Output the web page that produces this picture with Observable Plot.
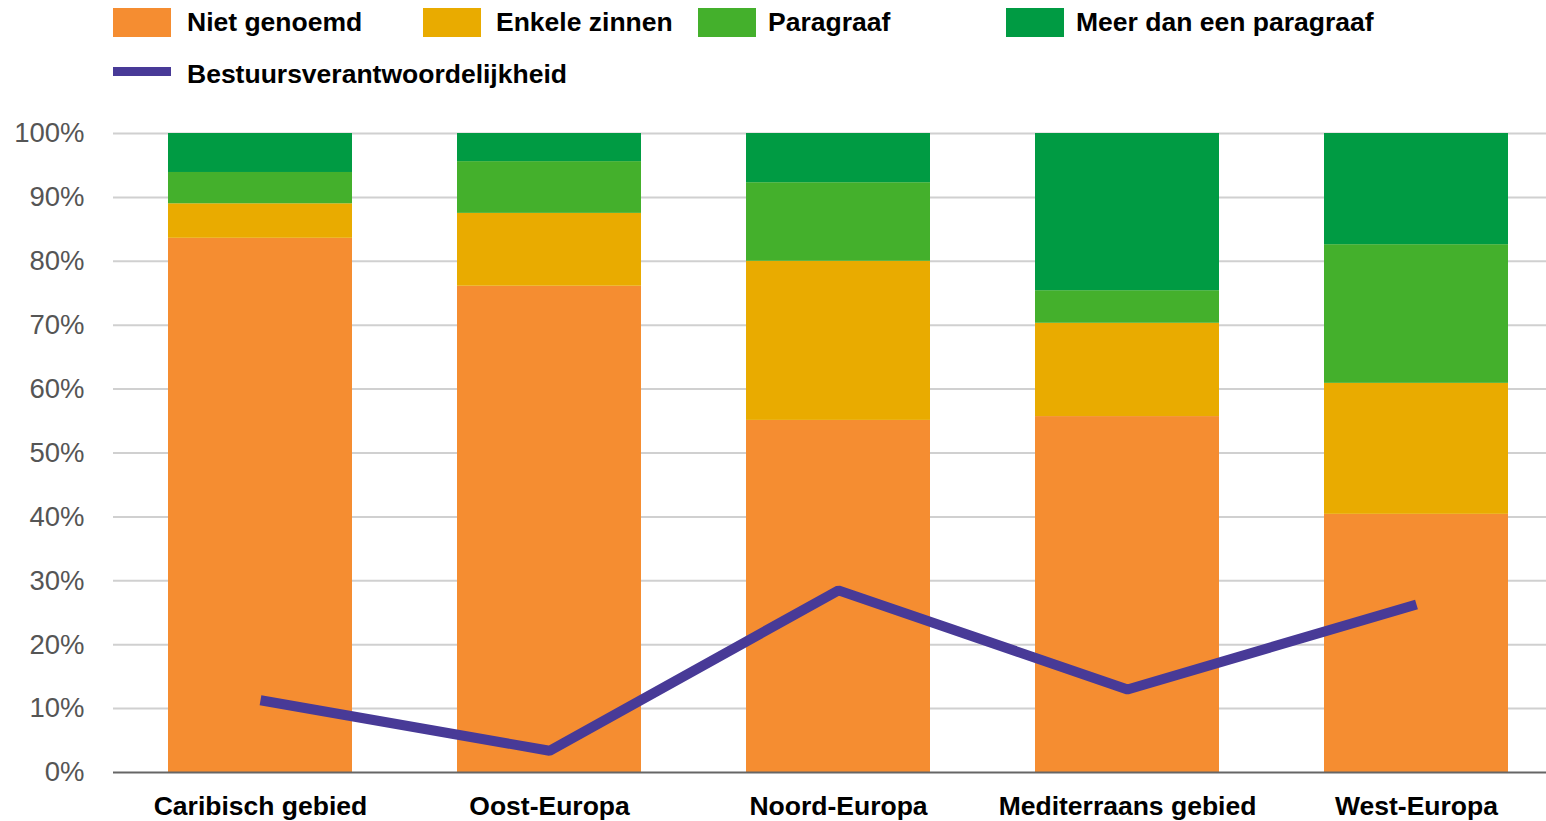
<!DOCTYPE html>
<html>
<head>
<meta charset="utf-8">
<script src="https://cdn.jsdelivr.net/npm/d3@7"></script>
<script src="https://cdn.jsdelivr.net/npm/@observablehq/plot@0.6"></script>
<style>
  body { margin: 0; background: #fff; font-family: "Liberation Sans", Arial, sans-serif; }
  #wrap { position: relative; width: 1546px; height: 821px; overflow: hidden; }
  #legend { position: relative; height: 100px; }
  .sw { position: absolute; width: 58px; height: 29px; }
  .ln { position: absolute; width: 58px; height: 9px; }
  .lt { position: absolute; font-weight: bold; font-size: 26.5px; line-height: 32px; height: 32px; color: #000; white-space: nowrap; }
</style>
</head>
<body>
<div id="wrap">
  <div id="legend"></div>
  <div id="chart"></div>
</div>
<script>
const regions = ["Caribisch gebied", "Oost-Europa", "Noord-Europa", "Mediterraans gebied", "West-Europa"];
const seriesNames = ["Niet genoemd", "Enkele zinnen", "Paragraaf", "Meer dan een paragraaf"];
const nietGenoemd = [83.6, 76.1, 55.1, 55.7, 40.4];
const enkeleZinnen = [5.4, 11.4, 24.9, 14.6, 20.5];
const paragraaf = [4.9, 8.1, 12.3, 5.1, 21.7];
const meerDanEenParagraaf = [6.1, 4.4, 7.7, 24.6, 17.4];
const lineName = "Bestuursverantwoordelijkheid";
const bestuursverantwoordelijkheid = [11.3, 3.4, 28.5, 13.0, 26.3];
const yTicks = [0, 10, 20, 30, 40, 50, 60, 70, 80, 90, 100];

const colors = ["#F58D31", "#E9AB00", "#44B02C", "#009B43"];
const lineColor = "#483A97";

const seriesValues = [nietGenoemd, enkeleZinnen, paragraaf, meerDanEenParagraaf];
const stacked = [];
seriesNames.forEach((s, i) => regions.forEach((r, j) => stacked.push({region: r, series: s, value: seriesValues[i][j]})));
const lineData = regions.map((r, j) => ({region: r, value: bestuursverantwoordelijkheid[j]}));

// legend
const legend = document.getElementById("legend");
const swatchX = [113, 423, 698, 1006];
const textX = [187, 496, 768, 1076];
function add(html) { legend.insertAdjacentHTML("beforeend", html); }
seriesNames.forEach((s, i) => {
  add(`<div class="sw" style="left:${swatchX[i]}px;top:8px;background:${colors[i]}"></div>`);
  add(`<div class="lt" style="left:${textX[i]}px;top:6px">${s}</div>`);
});
add(`<div class="ln" style="left:113px;top:67px;background:${lineColor}"></div>`);
add(`<div class="lt" style="left:187px;top:58px">${lineName}</div>`);

const chart = Plot.plot({
  width: 1546,
  height: 721,
  marginTop: 33,
  marginBottom: 49,
  marginLeft: 113,
  marginRight: 0,
  style: {fontFamily: "'Liberation Sans', Arial, sans-serif", background: "transparent", overflow: "visible"},
  x: {domain: regions, range: [114, 1561], paddingInner: 0.364, paddingOuter: 0.182, label: null},
  y: {domain: [0, 100], label: null},
  color: {domain: seriesNames, range: colors},
  marks: [
    Plot.ruleY(yTicks.filter(d => d > 0), {stroke: "#d0d0d0", strokeWidth: 2}),
    Plot.barY(stacked, {x: "region", y: "value", fill: "series", order: seriesNames}),
    Plot.ruleY([0], {stroke: "#666", strokeWidth: 2}),
    Plot.line(lineData, {x: "region", y: "value", stroke: lineColor, strokeWidth: 10, strokeLinecap: "butt", strokeLinejoin: "miter"}),
    Plot.axisY({ticks: yTicks, tickFormat: d => d + "%", tickSize: 0, tickPadding: 29, fontSize: 27.5, fill: "#555"}),
    Plot.axisX({tickSize: 0, tickPadding: 24, fontSize: 26.5, fontWeight: "bold", fill: "#000"})
  ]
});
document.getElementById("chart").appendChild(chart);
</script>
</body>
</html>
